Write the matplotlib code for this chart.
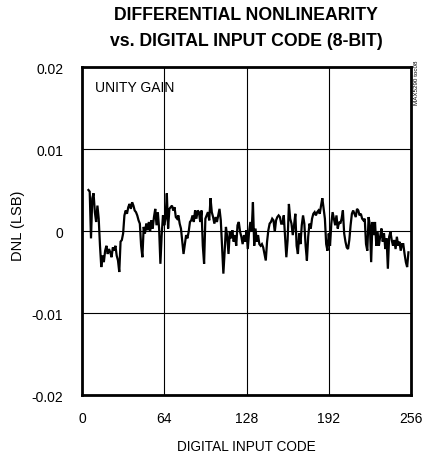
import matplotlib
matplotlib.use("Agg")
import matplotlib.pyplot as plt
from matplotlib import font_manager

# ---- data (DNL in units of 1e-3 LSB) ----
codes = list(range(5, 255))
dnl_milli = [
    5.0, 4.8, -0.9, 4.0, 4.6, 2.3, 1.1, 3.1, 1.5, -1.8,          # 5-14
    -4.4, -3.0, -3.8, -2.4, -1.8, -2.8, -2.2, -2.6, -3.2, -2.0,  # 15-24
    -2.4, -1.8, -3.0, -3.6, -5.0, -1.3, -1.1, -0.3, 1.9, 2.5,    # 25-34
    2.1, 2.9, 3.3, 2.7, 3.5, 3.1, 2.5, 2.3, 1.9, 1.3,            # 35-44
    0.9, -1.8, -3.2, 0.5, -0.3, 0.9, 0.1, 1.1, -0.1, 1.3,        # 45-54
    0.3, 1.7, 2.7, 0.7, 2.3, 0.3, -4.0, -0.5, 1.9, 0.7,          # 55-64
    1.5, 4.6, 0.3, 2.7, 2.9, 3.1, 2.5, 2.9, 1.7, 1.5,            # 65-74
    1.9, 0.9, 0.3, -1.3, -2.8, -1.6, -0.5, -0.9, -0.1, 1.1,      # 75-84
    1.3, 1.9, 1.1, 2.5, 1.5, 2.5, 2.3, 1.1, 2.5, -1.8,           # 85-94
    -4.0, 1.5, 1.9, 2.3, 1.3, 4.0, 2.3, 1.7, 0.9, 1.7,           # 95-104
    1.1, 1.9, 2.7, 1.3, -2.0, -5.2, -2.5, 0.5, -0.7, -2.8,       # 105-114
    -0.1, -0.9, 0.1, -1.3, -0.5, -1.8, 0.7, 1.1, -0.1, -0.7,     # 115-124
    -1.6, -0.5, -1.3, 0.1, -2.2, -0.1, 1.1, -0.1, 3.5, -1.8,     # 125-134
    0.3, -1.3, -0.5, -1.6, -1.8, -1.6, -2.0, -2.8, -3.6, -1.3,   # 135-144
    0.1, 0.9, 1.1, 1.5, 1.3, -0.1, 1.3, 1.7, 1.9, 1.7,           # 145-154
    0.9, 0.9, 1.9, -0.7, -3.2, -1.1, 3.3, 1.5, 0.9, -0.5,        # 155-164
    0.7, 2.1, -1.8, -2.8, -0.3, -1.6, 0.7, 1.9, 0.9, -1.8,       # 165-174
    -3.6, -0.7, 0.9, 0.3, 1.5, 2.1, 2.3, 1.9, 2.3, 2.5,          # 175-184
    2.1, 3.1, 4.0, 2.7, 1.5, -1.6, -2.4, -0.3, -1.8, 0.9,        # 185-194
    2.3, 1.5, 0.7, 1.9, 0.3, 1.1, 0.9, 1.5, 2.5, -0.3,           # 195-204
    -1.3, -2.0, -2.2, -1.1, 0.7, 2.1, 2.5, 2.1, 1.7, 2.7,        # 205-214
    2.5, 1.9, 2.1, 1.5, 1.3, 1.5, -1.6, -2.4, 1.7, 0.7,          # 215-224
    -3.8, 1.1, -0.5, 1.1, -1.8, -0.1, -1.8, -0.7, 0.3, -1.3,     # 225-234
    -0.3, -2.2, -0.9, -4.6, -0.7, -0.1, -1.1, -1.8, -1.1, -2.2,  # 235-244
    -0.7, -1.8, -1.3, -2.4, -1.6, -1.6, -2.8, -3.8, -4.4, -2.6,  # 245-254
]
dnl = [v / 1000.0 for v in dnl_milli]

x_ticks = [0, 64, 128, 192, 256]
y_ticks = [-0.02, -0.01, 0, 0.01, 0.02]
y_tick_labels = ["-0.02", "-0.01", "0", "0.01", "0.02"]

# ---- fonts ----
names = {f.name for f in font_manager.fontManager.ttflist}
narrow = "Liberation Sans Narrow" if "Liberation Sans Narrow" in names else "Liberation Sans"
plt.rcParams["font.family"] = [narrow, "DejaVu Sans"]

W, H = 430, 456
fig = plt.figure(figsize=(W / 100, H / 100), dpi=100)
L, R, T, B = 82, 411, 68, 396
ax = fig.add_axes([L / W, 1 - B / H, (R - L) / W, (B - T) / H])

ax.plot(codes, dnl, color="black", lw=1.6, solid_joinstyle="miter")

ax.set_xlim(0, 256)
ax.set_ylim(-0.02, 0.02)
ax.set_xticks(x_ticks)
ax.set_xticklabels([str(t) for t in x_ticks])
ax.set_yticks(y_ticks)
ax.set_yticklabels(y_tick_labels)
ax.tick_params(axis="x", length=0, labelsize=10, pad=11.5)
ax.tick_params(axis="y", length=0, labelsize=10, pad=13.5)
ax.grid(True, color="black", lw=0.8)
ax.set_axisbelow(True)
for s in ax.spines.values():
    s.set_linewidth(2.0)

ax.set_xlabel("DIGITAL INPUT CODE", fontsize=9.8)
ax.xaxis.set_label_coords(((L + R) / 2 - L) / (R - L), -(440 - B) / (B - T) + 0.0)
ax.set_ylabel("DNL (LSB)", fontsize=10.5)
ax.yaxis.set_label_coords((25 - L) / (R - L), (B - 226) / (B - T))

ax.text((95 - L) / (R - L), 1 - (81 - T) / (B - T), "UNITY GAIN", transform=ax.transAxes,
        fontsize=10, ha="left", va="top")
fig.text(417 / W, 1 - 83 / H, "MAX5290 toc08", rotation=90, fontsize=4.5,
         ha="center", va="center")

fig.text(246 / W, 1 - 15 / H, "DIFFERENTIAL NONLINEARITY", fontsize=12.7,
         fontweight="bold", ha="center", va="center")
fig.text(246 / W, 1 - 42 / H, "vs. DIGITAL INPUT CODE (8-BIT)", fontsize=12.7,
         fontweight="bold", ha="center", va="center")

fig.savefig("out.png", dpi=100)
